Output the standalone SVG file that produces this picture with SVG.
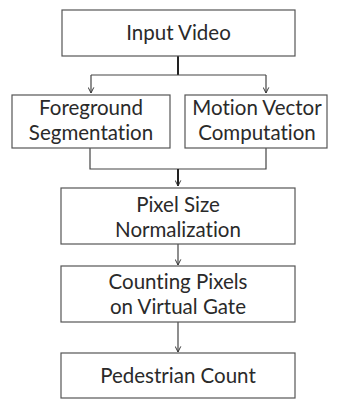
<svg xmlns="http://www.w3.org/2000/svg" width="341" height="400" viewBox="0 0 341 400">
<defs>
<style>
.box{fill:#fff;stroke:#555;stroke-width:1.2}
.t{font-family:Lato,"Open Sans",sans-serif;font-size:20.5px;fill:#2a2a2a;text-anchor:middle;font-variant-ligatures:none;font-feature-settings:"liga" 0,"dlig" 0}
.c{fill:none;stroke:#444;stroke-width:1.2}
.thick{fill:none;stroke:#222;stroke-width:2}
</style>
<marker id="ah" viewBox="0 0 10 10" refX="9" refY="5" markerWidth="7" markerHeight="7" orient="auto" markerUnits="userSpaceOnUse">
<path d="M1,1 L9,5 L1,9" fill="none" stroke="#333" stroke-width="1.4"/>
</marker>
</defs>
<rect width="341" height="400" fill="#fff"/>
<g id="connectors">
<path class="thick" d="M178,56 V75"/>
<path class="c" d="M91,75 H266"/>
<path class="c" d="M91,75 V93" marker-end="url(#ah)"/>
<path class="c" d="M266,75 V93" marker-end="url(#ah)"/>
<path class="c" d="M90,148 V169 H266 V148"/>
<path class="thick" d="M178,169 V186" marker-end="url(#ah)"/>
<path class="c" d="M178,244 V265" marker-end="url(#ah)"/>
<path class="c" d="M178,322 V352" marker-end="url(#ah)"/>
</g>
<g id="input-video">
<rect class="box" x="62" y="10" width="233" height="46"/>
<text class="t" x="178.5" y="40">Input Video</text>
</g>
<g id="foreground-segmentation">
<rect class="box" x="12" y="95" width="158" height="53"/>
<text class="t" x="91" y="115">Foreground</text>
<text class="t" x="91" y="140">Segmentation</text>
</g>
<g id="motion-vector-computation">
<rect class="box" x="185" y="95" width="142" height="53"/>
<text class="t" x="257" y="115">Motion Vector</text>
<text class="t" x="257" y="140">Computation</text>
</g>
<g id="pixel-size-normalization">
<rect class="box" x="61" y="188" width="234" height="56"/>
<text class="t" x="178" y="212">Pixel Size</text>
<text class="t" x="178" y="237">Normalization</text>
</g>
<g id="counting-pixels">
<rect class="box" x="61" y="266" width="234" height="56"/>
<text class="t" x="178" y="289">Counting Pixels</text>
<text class="t" x="178" y="314">on Virtual Gate</text>
</g>
<g id="pedestrian-count">
<rect class="box" x="61" y="353" width="234" height="45"/>
<text class="t" x="178" y="383">Pedestrian Count</text>
</g>
</svg>
